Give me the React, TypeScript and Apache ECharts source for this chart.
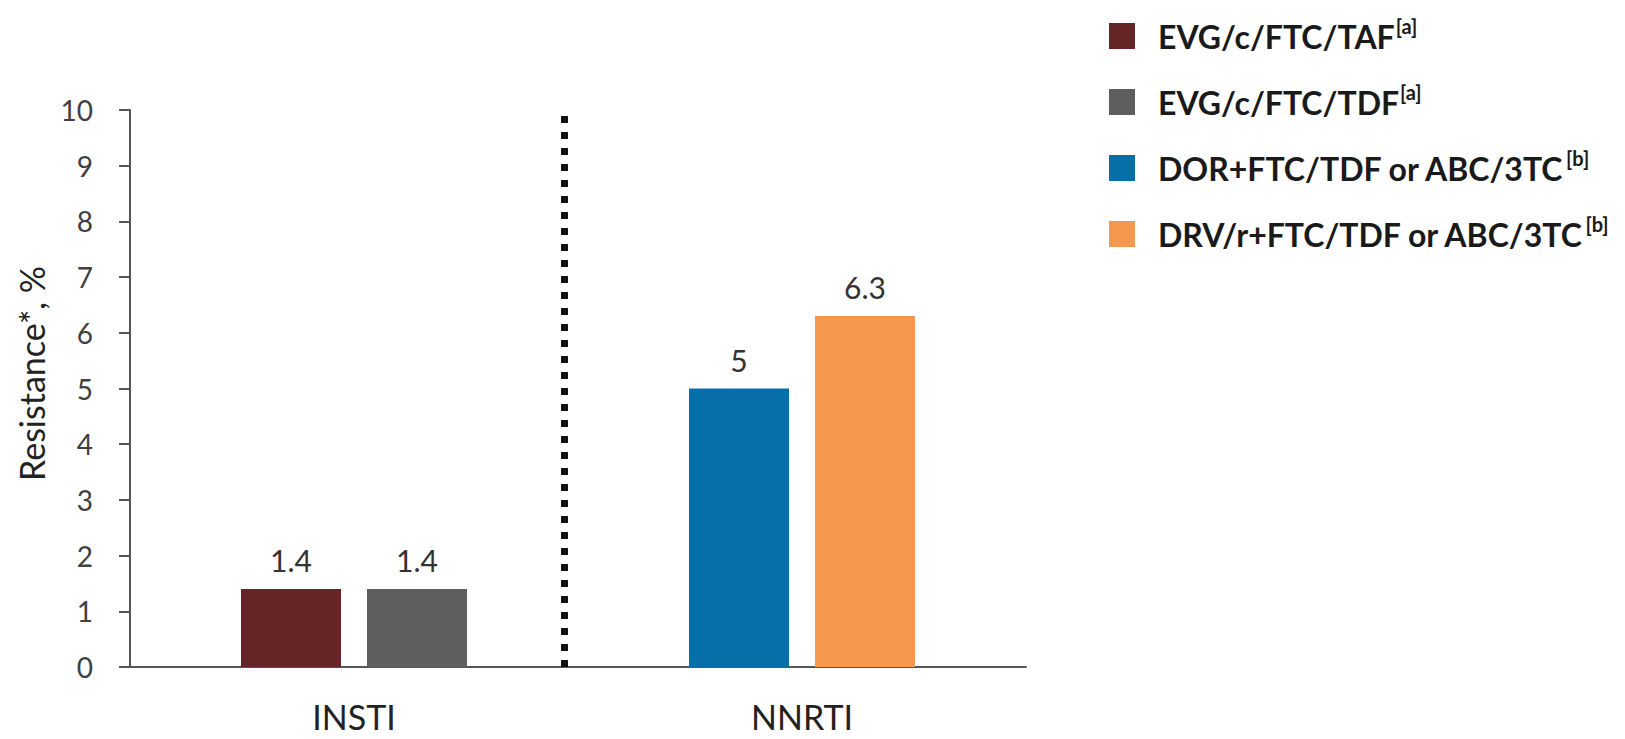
import React, { useEffect, useRef } from "react";
import * as echarts from "echarts";

const categories = ["INSTI", "NNRTI"];
const seriesNames = [
  "EVG/c/FTC/TAF",
  "EVG/c/FTC/TDF",
  "DOR+FTC/TDF or ABC/3TC",
  "DRV/r+FTC/TDF or ABC/3TC",
];
const seriesNotes = ["[a]", "[a]", "[b]", "[b]"];
const evgTaf = [1.4, null];
const evgTdf = [1.4, null];
const dorFtc = [null, 5];
const drvFtc = [null, 6.3];
const yTicks = { min: 0, max: 10, interval: 1 };
const dividerAt = 0.97; // position of dotted divider in category units (0..2)

const colors = ["#652426", "#5e5e5e", "#066fa8", "#f6974e"];
const FONT = "Lato";

export default function App() {
  const ref = useRef<HTMLDivElement>(null);
  useEffect(() => {
    if (!ref.current) return;
    const chart = echarts.init(ref.current, null, { renderer: "svg" });
    const values = [evgTaf, evgTdf, dorFtc, drvFtc];
    const stacks = ["left", "right", "left", "right"];
    const label = {
      show: true,
      position: "top",
      distance: 14,
      fontFamily: FONT,
      fontSize: 30,
      color: "#333333",
    };
    const series: any[] = values.map((v, i) => ({
      name: seriesNames[i],
      type: "bar",
      stack: stacks[i],
      data: v,
      barWidth: 100,
      barGap: "26%",
      itemStyle: { color: colors[i] },
      label,
    }));
    series.push({
      type: "line",
      xAxisIndex: 1,
      data: [],
      silent: true,
      markLine: {
        symbol: "none",
        silent: true,
        label: { show: false },
        lineStyle: { color: "#111111", width: 7, type: [7, 9], cap: "butt" },
        data: [{ xAxis: dividerAt }],
      },
    });
    chart.setOption({
      animation: false,
      backgroundColor: "#ffffff",
      color: colors,
      grid: { left: 130, right: 599, top: 110, bottom: 72, containLabel: false },
      legend: {
        orient: "vertical",
        left: 1104,
        top: 11,
        itemWidth: 26,
        itemHeight: 26,
        itemGap: 30,
        icon: "rect",
        data: seriesNames,
        formatter: (name: string) => {
          const i = seriesNames.indexOf(name);
          return `{m|${name}}{s|${seriesNotes[i]}}`;
        },
        textStyle: {
          padding: [0, 0, 0, 18],
          rich: {
            m: { fontFamily: FONT, fontSize: 32, fontWeight: "bold", color: "#1a1a1a", lineHeight: 40 },
            s: { fontFamily: FONT, fontSize: 20, fontWeight: "bold", color: "#1a1a1a", lineHeight: 40, verticalAlign: "top", padding: [0, 0, 0, 1] },
          },
        },
      },
      xAxis: [
        {
          type: "category",
          data: categories,
          axisLine: { lineStyle: { color: "#555555", width: 2 } },
          axisTick: { show: false },
          axisLabel: { fontFamily: FONT, fontSize: 34, color: "#222222", margin: 32 },
        },
        { type: "value", min: 0, max: 2, show: false },
      ],
      yAxis: {
        type: "value",
        min: yTicks.min,
        max: yTicks.max,
        interval: yTicks.interval,
        name: "Resistance*, %",
        nameLocation: "middle",
        nameGap: 82,
        nameTextStyle: { fontFamily: FONT, fontSize: 34, color: "#222222", padding: [0, 0, 0, 30] },
        axisLine: { show: true, lineStyle: { color: "#555555", width: 2 } },
        axisTick: { show: true, length: 11, lineStyle: { color: "#555555", width: 2 } },
        axisLabel: { fontFamily: FONT, fontSize: 28, color: "#404040", margin: 37 },
        splitLine: { show: false },
      },
      series,
    });
    return () => chart.dispose();
  }, []);
  return (
    <div
      ref={ref}
      style={{ position: "fixed", left: 0, top: 0, width: "1625px", height: "739px" }}
    />
  );
}
